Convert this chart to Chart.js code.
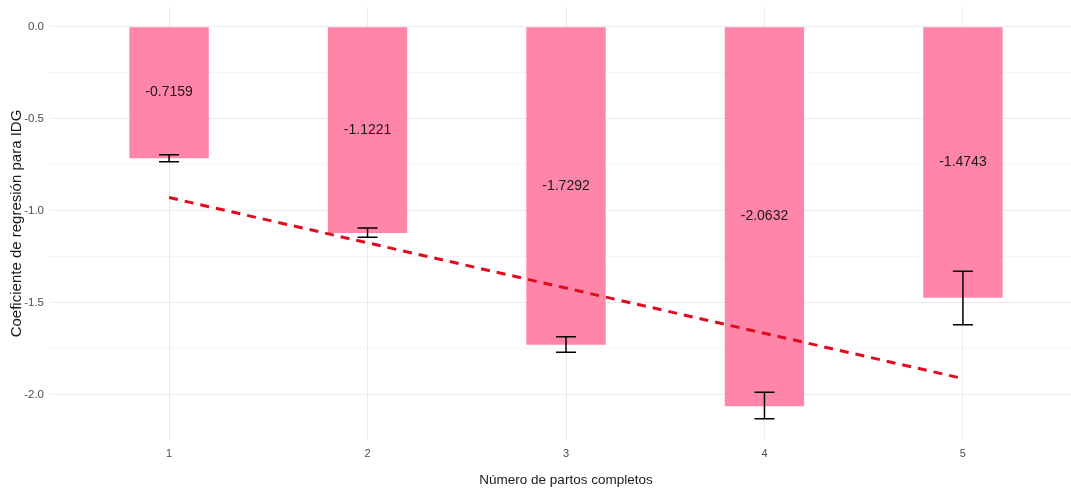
<!DOCTYPE html>
<html>
<head>
<meta charset="utf-8">
<script src="https://cdn.jsdelivr.net/npm/chart.js@4"></script>
<style>
html,body{margin:0;padding:0;background:#fff;overflow:hidden;width:1071px;height:488px;}
#wrap{width:1082px;height:488px;}
</style>
</head>
<body>
<div id="wrap"><canvas id="c" width="1082" height="488"></canvas></div>
<script>
const categories = ["1", "2", "3", "4", "5"];
const coefficients = [-0.7159, -1.1221, -1.7292, -2.0632, -1.4743];
const errLower = [-0.734, -1.145, -1.770, -2.132, -1.620];
const errUpper = [-0.696, -1.094, -1.686, -1.987, -1.330];
const trendValues = [-0.929, -1.175, -1.421, -1.667, -1.913];
const yTickValues = [-2, -1.75, -1.5, -1.25, -1, -0.75, -0.5, -0.25, 0];
const yMajorTicks = [0, -0.5, -1, -1.5, -2];

const FONT = "'Liberation Sans', Arial, sans-serif";

const barData = categories.map((c, i) => ({x: i + 1, y: coefficients[i]}));
const trendData = categories.map((c, i) => ({x: i + 1, y: trendValues[i]}));

const bgPlugin = {
  id: 'bg',
  beforeDraw(chart) {
    const ctx = chart.ctx;
    ctx.save();
    ctx.fillStyle = '#ffffff';
    ctx.fillRect(0, 0, chart.width, chart.height);
    ctx.restore();
  }
};

const overlayPlugin = {
  id: 'overlay',
  afterDatasetsDraw(chart) {
    const ctx = chart.ctx;
    const xs = chart.scales.x, ys = chart.scales.y;
    ctx.save();
    ctx.strokeStyle = '#000000';
    ctx.lineWidth = 1.5;
    categories.forEach((c, i) => {
      const px = xs.getPixelForValue(i + 1);
      const y1 = ys.getPixelForValue(errLower[i]);
      const y2 = ys.getPixelForValue(errUpper[i]);
      ctx.beginPath();
      ctx.moveTo(px, y1); ctx.lineTo(px, y2);
      ctx.moveTo(px - 10, y1); ctx.lineTo(px + 10, y1);
      ctx.moveTo(px - 10, y2); ctx.lineTo(px + 10, y2);
      ctx.stroke();
    });
    ctx.fillStyle = '#1a1a1a';
    ctx.font = '14px ' + FONT;
    ctx.textAlign = 'center';
    ctx.textBaseline = 'middle';
    categories.forEach((c, i) => {
      const px = xs.getPixelForValue(i + 1);
      const py = ys.getPixelForValue(coefficients[i] / 2);
      ctx.fillText(coefficients[i].toFixed(4), px, py);
    });
    ctx.restore();
  }
};

new Chart(document.getElementById('c'), {
  type: 'bar',
  data: {
    datasets: [
      {
        type: 'line',
        data: trendData,
        borderColor: '#e00b1c',
        borderWidth: 3,
        borderDash: [9, 7],
        pointRadius: 0,
        fill: false,
        order: 0
      },
      {
        type: 'bar',
        data: barData,
        backgroundColor: '#ff85a9',
        borderWidth: 0,
        categoryPercentage: 1,
        barPercentage: 0.4,
        order: 1
      }
    ]
  },
  options: {
    responsive: false,
    animation: false,
    layout: {padding: {top: 7, left: 0, right: 0, bottom: 0}},
    plugins: {legend: {display: false}, tooltip: {enabled: false}},
    scales: {
      x: {
        type: 'linear',
        offset: false,
        min: 0.4,
        max: 5.6,
        afterBuildTicks: s => { s.ticks = categories.map((c, i) => ({value: i + 1})); },
        afterFit: s => { s.height = 48; s.paddingLeft = 0; s.paddingRight = 0; },
        grid: {color: '#ebebeb', lineWidth: 1, drawTicks: false, offset: false},
        border: {display: false},
        ticks: {
          padding: 7,
          color: '#4d4d4d',
          font: {family: FONT, size: 11},
          callback: (v) => categories[Math.round(v) - 1]
        },
        title: {
          display: true,
          text: 'Número de partos completos',
          color: '#1a1a1a',
          font: {family: FONT, size: 13.5},
          padding: {top: 2, bottom: 0}
        }
      },
      y: {
        type: 'linear',
        min: -2.247,
        max: 0.107,
        afterBuildTicks: s => { s.ticks = yTickValues.map(v => ({value: v})); },
        afterFit: s => { s.width = 50; s.paddingTop = 0; s.paddingBottom = 0; },
        grid: {
          color: ctx => yMajorTicks.includes(ctx.tick && ctx.tick.value) ? '#ebebeb' : '#f2f2f2',
          lineWidth: ctx => yMajorTicks.includes(ctx.tick && ctx.tick.value) ? 1 : 0.8,
          drawTicks: false
        },
        border: {display: false},
        ticks: {
          padding: 6,
          color: '#4d4d4d',
          font: {family: FONT, size: 11.5},
          callback: v => yMajorTicks.includes(v) ? v.toFixed(1) : ''
        },
        title: {
          display: true,
          text: 'Coeficiente de regresión para IDG',
          color: '#1a1a1a',
          font: {family: FONT, size: 15},
          padding: {top: 8, bottom: 0}
        }
      }
    }
  },
  plugins: [bgPlugin, overlayPlugin]
});
</script>
</body>
</html>
